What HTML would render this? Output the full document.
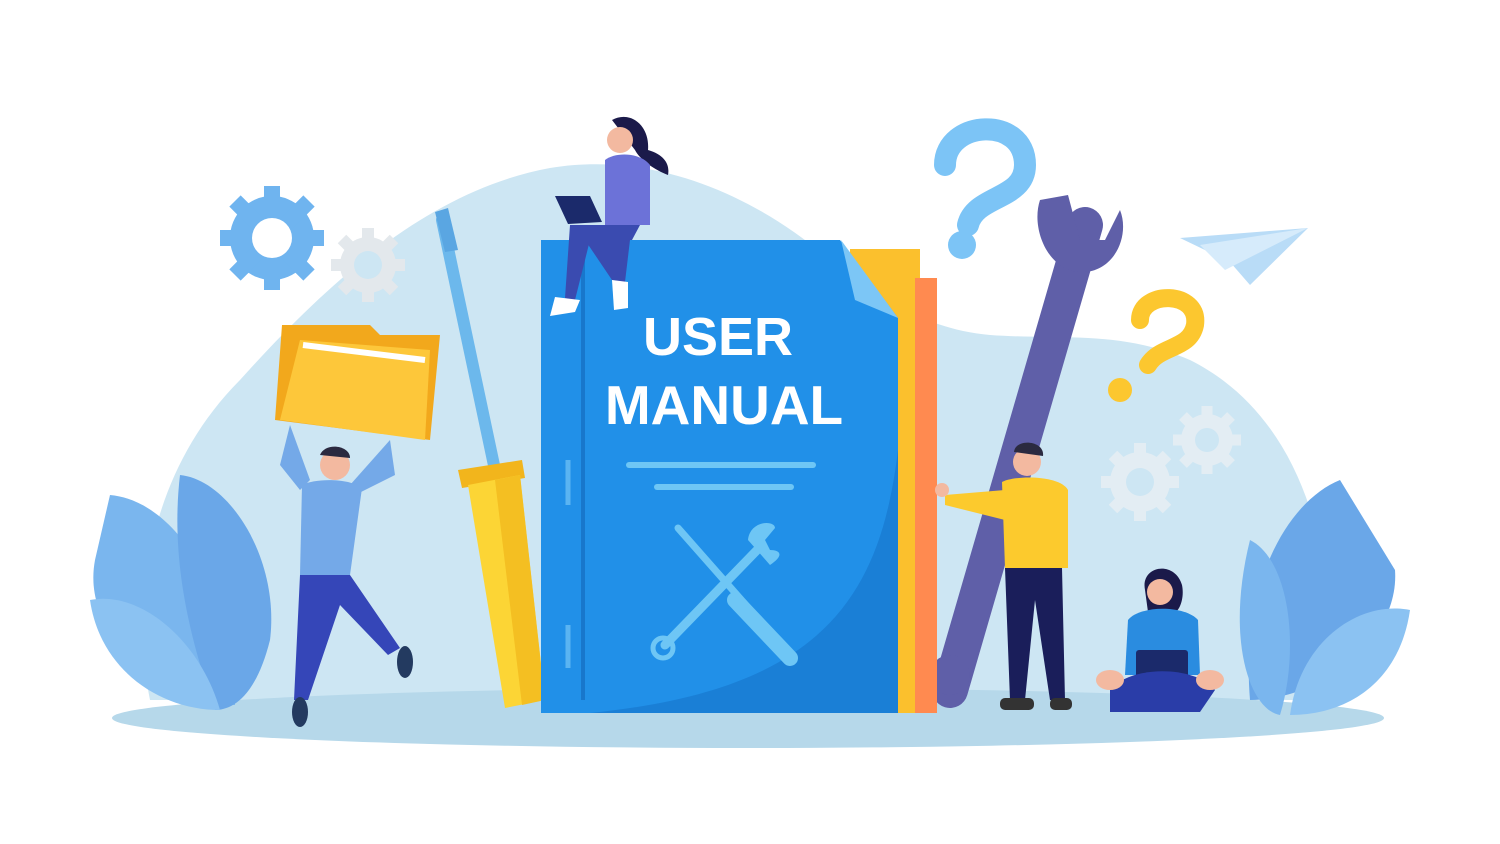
<!DOCTYPE html>
<html><head><meta charset="utf-8"><style>
html,body{margin:0;padding:0;background:#fff;width:1500px;height:844px;overflow:hidden}
svg{display:block}
</style></head><body>
<svg width="1500" height="844" viewBox="0 0 1500 844" xmlns="http://www.w3.org/2000/svg">
<!-- background blob -->
<path d="M150,700 C130,600 150,470 240,380 C330,280 430,190 550,168 C660,150 760,200 830,260 C880,300 930,330 990,335 C1060,340 1120,330 1190,360 C1290,410 1340,530 1330,700 Z" fill="#cde6f3"/>
<ellipse cx="748" cy="718" rx="636" ry="30" fill="#b6d8ea"/>
<!-- gears left -->
<g fill="#6fb4ef"><circle cx="272" cy="238" r="42"/>
<g stroke="#6fb4ef" stroke-width="16"><line x1="272" y1="186" x2="272" y2="290"/><line x1="220" y1="238" x2="324" y2="238"/><line x1="235" y1="201" x2="309" y2="275"/><line x1="309" y1="201" x2="235" y2="275"/></g></g>
<circle cx="272" cy="238" r="20" fill="#fff"/>
<g fill="#e3e8ec"><circle cx="368" cy="265" r="28"/>
<g stroke="#e3e8ec" stroke-width="12"><line x1="368" y1="228" x2="368" y2="302"/><line x1="331" y1="265" x2="405" y2="265"/><line x1="342" y1="239" x2="394" y2="291"/><line x1="394" y1="239" x2="342" y2="291"/></g></g>
<circle cx="368" cy="265" r="14" fill="#cde6f3"/>
<!-- gears right -->
<g fill="#e3edf3"><circle cx="1140" cy="482" r="30"/>
<g stroke="#e3edf3" stroke-width="12"><line x1="1140" y1="443" x2="1140" y2="521"/><line x1="1101" y1="482" x2="1179" y2="482"/><line x1="1113" y1="455" x2="1167" y2="509"/><line x1="1167" y1="455" x2="1113" y2="509"/></g>
<circle cx="1207" cy="440" r="26"/>
<g stroke="#e3edf3" stroke-width="11"><line x1="1207" y1="406" x2="1207" y2="474"/><line x1="1173" y1="440" x2="1241" y2="440"/><line x1="1183" y1="416" x2="1231" y2="464"/><line x1="1231" y1="416" x2="1183" y2="464"/></g></g>
<circle cx="1140" cy="482" r="14" fill="#cde6f3"/><circle cx="1207" cy="440" r="12" fill="#cde6f3"/>
<!-- question marks -->
<path d="M945,165 C945,120 1025,115 1025,165 C1025,200 975,195 968,225" fill="none" stroke="#7cc4f6" stroke-width="22" stroke-linecap="round"/>
<circle cx="962" cy="245" r="14" fill="#7cc4f6"/>
<path d="M1140,320 C1140,290 1200,290 1195,325 C1190,350 1160,345 1148,365" fill="none" stroke="#fcc72f" stroke-width="18" stroke-linecap="round"/>
<circle cx="1120" cy="390" r="12" fill="#fcc72f"/>
<!-- paper plane -->
<polygon points="1180,238 1308,228 1250,285 1230,262" fill="#b9dcf7"/>
<polygon points="1200,245 1308,228 1225,270" fill="#d6ebfb"/>
<!-- leaves left -->
<path d="M110,495 C170,500 230,580 235,705 C170,700 80,640 95,560 Z" fill="#7ab6ee"/>
<path d="M180,475 C230,480 280,560 270,640 C255,700 230,710 215,710 C190,640 170,560 180,475 Z" fill="#6aa7e8"/>
<path d="M90,600 C140,590 200,640 220,710 C160,710 100,670 90,600 Z" fill="#8bc2f2"/>
<!-- leaves right -->
<path d="M1340,480 C1290,500 1240,580 1250,700 C1320,700 1400,640 1395,570 Z" fill="#6aa7e8"/>
<path d="M1250,540 C1290,560 1300,650 1280,715 C1250,710 1225,640 1250,540 Z" fill="#7ab6ee"/>
<path d="M1410,610 C1360,600 1300,640 1290,715 C1350,715 1400,680 1410,610 Z" fill="#8bc2f2"/>
<!-- screwdriver -->
<line x1="442" y1="220" x2="495" y2="470" stroke="#6cb8ec" stroke-width="12" stroke-linecap="round"/>
<polygon points="435,212 448,208 458,250 445,252" fill="#5aa6e2"/>
<polygon points="458,470 522,460 525,478 462,488" fill="#f2b51c"/>
<polygon points="468,485 520,475 545,700 505,708" fill="#fcd535"/>
<polygon points="495,480 520,475 545,700 522,705" fill="#f4bf22"/>
<!-- wrench -->
<path d="M1085,225 L950,690" stroke="#5f5fa8" stroke-width="36" stroke-linecap="round"/>
<path d="M1040,200 C1030,230 1050,275 1085,272 C1115,270 1130,235 1120,210 L1105,240 L1080,240 L1068,195 Z" fill="#5f5fa8"/>
<circle cx="950" cy="675" r="20" fill="#5f5fa8"/>
<!-- pages behind -->
<rect x="850" y="249" width="70" height="464" fill="#fbc02d"/>
<rect x="915" y="278" width="22" height="435" fill="#ff8a50"/>
<!-- book -->
<path d="M541,240 L840,240 L898,318 L898,713 L541,713 Z" fill="#2190e8"/>
<path d="M841,240 L898,318 L855,300 Z" fill="#7cc6f6"/>
<path d="M590,713 L898,713 L898,450 C880,600 820,690 590,713 Z" fill="#1a7fd6"/>
<line x1="583" y1="250" x2="583" y2="700" stroke="#1877cc" stroke-width="4"/>
<line x1="568" y1="460" x2="568" y2="505" stroke="#5ab4f2" stroke-width="5"/>
<line x1="568" y1="625" x2="568" y2="668" stroke="#5ab4f2" stroke-width="5"/>
<text x="718" y="355" font-family="Liberation Sans, sans-serif" font-weight="bold" font-size="54" fill="#fff" text-anchor="middle">USER</text>
<text x="724" y="424" font-family="Liberation Sans, sans-serif" font-weight="bold" font-size="55" fill="#fff" text-anchor="middle">MANUAL</text>
<line x1="629" y1="465" x2="813" y2="465" stroke="#6ec6f5" stroke-width="6" stroke-linecap="round"/>
<line x1="657" y1="487" x2="791" y2="487" stroke="#6ec6f5" stroke-width="6" stroke-linecap="round"/>
<!-- crossed tools on book -->
<line x1="678" y1="528" x2="790" y2="655" stroke="#6ec6f5" stroke-width="7" stroke-linecap="round"/>
<line x1="735" y1="600" x2="790" y2="658" stroke="#6ec6f5" stroke-width="16" stroke-linecap="round"/>
<line x1="665" y1="645" x2="762" y2="545" stroke="#6ec6f5" stroke-width="9" stroke-linecap="round"/>
<circle cx="663" cy="648" r="10" fill="none" stroke="#6ec6f5" stroke-width="5"/>
<path d="M748,540 C750,520 775,520 775,528 L765,540 L770,550 C780,550 785,555 770,565 Z" fill="#6ec6f5"/>
<!-- woman on top -->
<path d="M612,120 C630,110 650,125 648,150 C665,155 670,165 668,175 C655,170 640,160 635,150 Z" fill="#1b1a4a"/>
<circle cx="620" cy="140" r="13" fill="#f3b9a0"/>
<path d="M605,160 C615,152 640,152 650,165 L650,225 L605,225 Z" fill="#6c72d8"/>
<path d="M570,225 L640,225 L632,240 L590,240 L575,300 L565,298 Z" fill="#3a4bb0"/>
<path d="M585,240 L630,240 L625,282 L612,280 Z" fill="#3a4bb0"/>
<path d="M555,297 L580,300 L575,312 L550,316 Z" fill="#fff"/>
<path d="M612,280 L628,282 L628,308 L614,310 Z" fill="#fff"/>
<polygon points="555,196 590,196 602,222 568,224" fill="#1b2a6b"/>
<!-- man with folder -->
<polygon points="282,325 370,325 380,335 440,335 430,440 275,420" fill="#f2a81c"/>
<polygon points="300,340 430,350 425,440 280,420" fill="#fdc73a"/>
<line x1="303" y1="345" x2="425" y2="360" stroke="#fff" stroke-width="6"/>
<path d="M290,425 L280,465 L300,490 L310,480 Z" fill="#74a9e8"/>
<path d="M390,440 L395,475 L355,495 L350,485 Z" fill="#74a9e8"/>
<circle cx="335" cy="465" r="15" fill="#f3b9a0"/>
<path d="M320,455 C325,442 350,445 350,458 Z" fill="#2b2a40"/>
<path d="M302,485 C315,478 350,478 362,488 L350,575 L300,575 Z" fill="#74a9e8"/>
<path d="M300,575 L350,575 L400,648 L388,655 L340,605 L308,700 L294,700 Z" fill="#3546b8"/>
<ellipse cx="300" cy="712" rx="8" ry="15" fill="#233a60"/>
<ellipse cx="405" cy="662" rx="8" ry="16" fill="#233a60"/>
<!-- standing man -->
<circle cx="1027" cy="462" r="14" fill="#f3b9a0"/>
<path d="M1014,452 C1015,438 1045,440 1043,456 Z" fill="#2b2a40"/>
<path d="M1002,482 C1015,475 1060,475 1068,490 L1068,568 L1005,568 Z" fill="#fcca2d"/>
<path d="M1005,490 L945,495 L945,505 L1005,520 Z" fill="#fcca2d"/>
<circle cx="942" cy="490" r="7" fill="#f3b9a0"/>
<path d="M1005,568 L1062,568 L1065,700 L1050,700 L1035,600 L1025,700 L1010,700 Z" fill="#1a1e5a"/>
<rect x="1000" y="698" width="34" height="12" rx="5" fill="#333"/>
<rect x="1050" y="698" width="22" height="12" rx="5" fill="#333"/>
<!-- sitting woman -->
<path d="M1145,590 C1140,565 1175,560 1182,585 C1185,600 1178,612 1175,612 L1148,612 Z" fill="#1b1a4a"/>
<circle cx="1160" cy="592" r="13" fill="#f3b9a0"/>
<path d="M1128,620 C1140,605 1185,605 1198,620 L1200,675 L1125,675 Z" fill="#2a8ce0"/>
<rect x="1136" y="650" width="52" height="35" rx="3" fill="#1b2a6b"/>
<path d="M1110,690 C1130,665 1195,665 1215,690 L1200,712 L1110,712 Z" fill="#2a3da8"/>
<ellipse cx="1110" cy="680" rx="14" ry="10" fill="#f3b9a0"/>
<ellipse cx="1210" cy="680" rx="14" ry="10" fill="#f3b9a0"/>
</svg>
</body></html>
